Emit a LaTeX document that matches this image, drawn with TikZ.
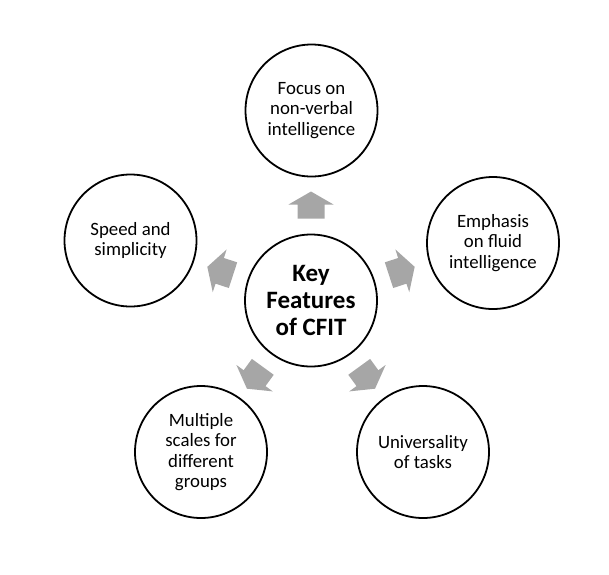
\documentclass[tikz,border=0pt]{standalone}
\usepackage{fontspec}
\setmainfont{Carlito}
\definecolor{arrowgray}{HTML}{A6A6A6}
\begin{document}
\begin{tikzpicture}[x=1pt,y=1pt]
\useasboundingbox (0,0) rectangle (609,-574);
\tikzset{
  feat/.style={circle, draw=black, line width=1.8pt, minimum size=132pt, inner sep=0pt, align=center, font=\fontsize{18.8}{20.5}\selectfont},
  hub/.style={feat, font=\fontsize{25}{26.8}\selectfont\bfseries},
  blockarrow/.style={fill=arrowgray}
}
\node[hub]  (c) at (311,-300.5) {Key\\Features\\of CFIT};
\node[feat] (t) at (311.5,-110.5) {Focus on\\non-verbal\\intelligence};
\node[feat] (r) at (493,-243) {Emphasis\\on fluid\\intelligence};
\node[feat] (br) at (423,-452) {Universality\\of tasks};
\node[feat] (bl) at (201,-452) {Multiple\\scales for\\different\\groups};
\node[feat] (l) at (130.5,-240.5) {Speed and\\simplicity};
\foreach \a in {90,18,-54,-126,162}{
  \begin{scope}[shift={(c.center)}, rotate=\a-90]
    \fill[blockarrow] (-13.5,82) -- (13.5,82) -- (13.5,96) -- (22.5,96) -- (0,109) -- (-22.5,96) -- (-13.5,96) -- cycle;
  \end{scope}
}
\end{tikzpicture}
\end{document}
